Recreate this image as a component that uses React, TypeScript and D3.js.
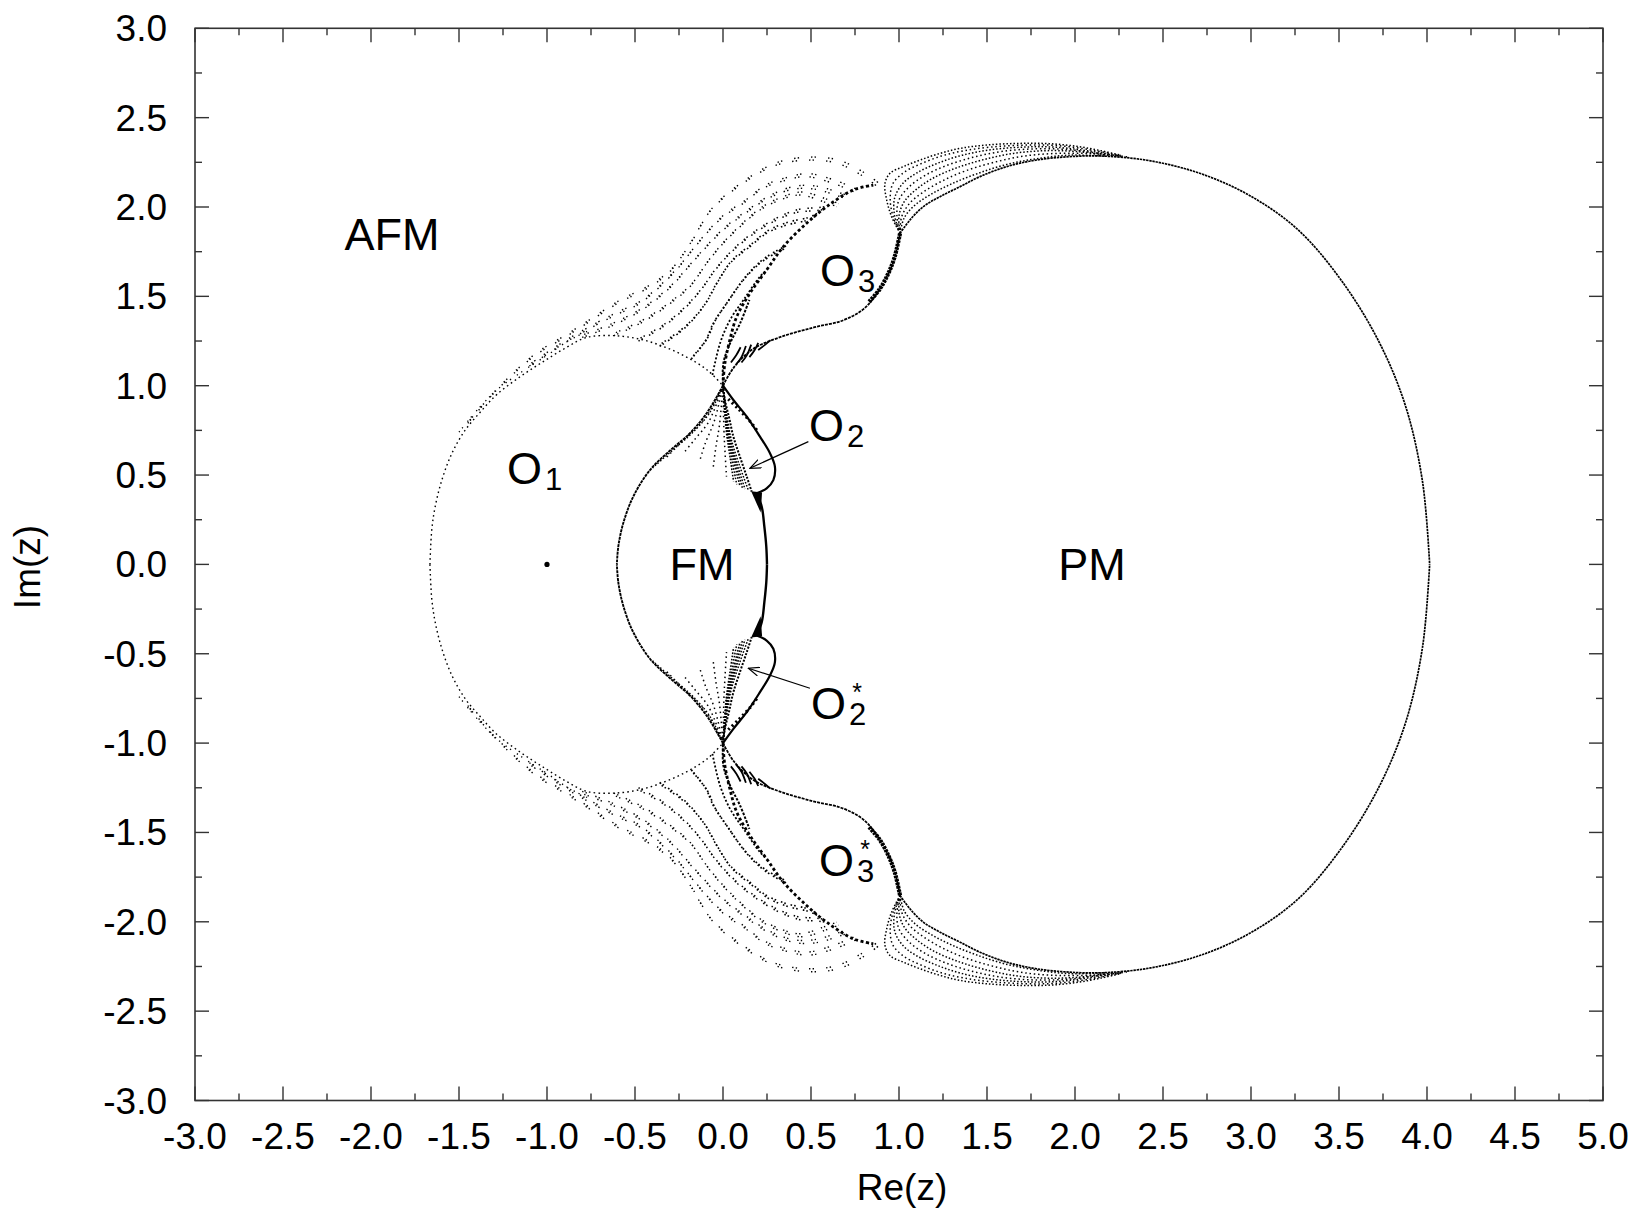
import React from 'react';
import * as d3 from 'd3';

type Pt = [number, number];

// ---- axis ticks ----
const xMajor = [-3, -2.5, -2, -1.5, -1, -0.5, 0, 0.5, 1, 1.5, 2, 2.5, 3, 3.5, 4, 4.5, 5];
const xLabels = ['-3.0', '-2.5', '-2.0', '-1.5', '-1.0', '-0.5', '0.0', '0.5', '1.0', '1.5', '2.0', '2.5', '3.0', '3.5', '4.0', '4.5', '5.0'];
const yMajor = [-3, -2.5, -2, -1.5, -1, -0.5, 0, 0.5, 1, 1.5, 2, 2.5, 3];
const yLabels = ['-3.0', '-2.5', '-2.0', '-1.5', '-1.0', '-0.5', '0.0', '0.5', '1.0', '1.5', '2.0', '2.5', '3.0'];

// ---- zero loci, upper half plane (the lower half is the complex conjugate) ----
const pmBoundary: Pt[] = [
  [1.006, 1.853], [1.062, 1.927], [1.138, 2.002], [1.233, 2.058], [1.347, 2.114], [1.46, 2.17],
  [1.612, 2.226], [1.782, 2.263], [1.972, 2.282], [2.161, 2.285], [2.43, 2.258], [2.72, 2.185],
  [3.0, 2.06], [3.27, 1.87], [3.52, 1.58], [3.73, 1.24], [3.88, 0.88], [3.975, 0.46], [4.015, 0.0],
];

const o1Boundary: Pt[] = [
  [-1.665, 0.0], [-1.655, 0.19], [-1.636, 0.32], [-1.598, 0.47], [-1.541, 0.62], [-1.466, 0.75],
  [-1.381, 0.85], [-1.286, 0.95], [-1.153, 1.05], [-1.021, 1.135], [-0.888, 1.215], [-0.775, 1.27],
  [-0.62, 1.28], [-0.47, 1.26], [-0.34, 1.22], [-0.21, 1.162], [-0.09, 1.088], [0.0, 1.0],
];

const o1Fringe: Pt[] = [
  [-1.50, 0.74], [-1.40, 0.86], [-1.28, 0.98], [-1.14, 1.08], [-1.0, 1.17], [-0.88, 1.25], [-0.76, 1.31],
];

const fmLeftBoundary: Pt[] = [
  [0.0, 1.0], [-0.093, 0.846], [-0.188, 0.734], [-0.301, 0.637], [-0.415, 0.528], [-0.510, 0.379],
  [-0.567, 0.230], [-0.595, 0.099], [-0.603, 0.0],
];

const fmRightBoundary: Pt[] = [
  [0.191, 0.398], [0.220, 0.323], [0.235, 0.211], [0.246, 0.099], [0.250, 0.0],
];

const fmWedge: Pt[] = [[0.16, 0.409], [0.222, 0.402], [0.214, 0.29]];

const o2Boundary: Pt[] = [
  [0.0, 1.0], [0.059, 0.920], [0.135, 0.827], [0.210, 0.715], [0.267, 0.622], [0.295, 0.547],
  [0.286, 0.472], [0.248, 0.426], [0.191, 0.398],
];

const o2Edge: Pt[] = [
  [0.0, 1.0], [0.011, 0.92], [0.035, 0.82], [0.059, 0.715], [0.097, 0.60], [0.135, 0.491], [0.163, 0.407],
];

const o2Hatch: Pt[] = [[0.03, 0.925], [0.09, 0.868], [0.15, 0.805], [0.20, 0.74]];

const fmFanRays: Pt[][] = [
  [[0, 1], [-0.075, 0.85], [-0.17, 0.74], [-0.28, 0.645], [-0.40, 0.54]],
  [[0, 1], [-0.10, 0.82], [-0.22, 0.70], [-0.32, 0.60]],
  [[0, 1], [-0.08, 0.80], [-0.16, 0.70], [-0.226, 0.62]],
  [[0, 1], [-0.05, 0.80], [-0.10, 0.68], [-0.131, 0.584]],
  [[0, 1], [-0.02, 0.78], [-0.04, 0.66], [-0.055, 0.547]],
  [[0, 1], [0.005, 0.76], [0.012, 0.62], [0.02, 0.491]],
  [[0, 1], [0.018, 0.75], [0.04, 0.60], [0.06, 0.465]],
  [[0, 1], [0.022, 0.745], [0.05, 0.59], [0.078, 0.448]],
  [[0, 1], [0.025, 0.74], [0.06, 0.58], [0.097, 0.435]],
  [[0, 1], [0.03, 0.735], [0.07, 0.57], [0.11, 0.428]],
  [[0, 1], [0.035, 0.73], [0.08, 0.56], [0.125, 0.422]],
  [[0, 1], [0.042, 0.72], [0.095, 0.55], [0.145, 0.413]],
];

const o3LowerBoundary: Pt[] = [
  [0.0, 1.0], [0.06, 1.10], [0.17, 1.205], [0.32, 1.27], [0.51, 1.325], [0.68, 1.365],
  [0.80, 1.43], [0.89, 1.54], [0.965, 1.685], [1.006, 1.853],
];

const o3CuspEdge: Pt[] = [[0.83, 1.47], [0.89, 1.54], [0.94, 1.63], [0.975, 1.72], [1.006, 1.853]];

const o3PinchHatch: Pt[][] = [
  [[0.045, 1.13], [0.075, 1.17], [0.10, 1.215]],
  [[0.075, 1.12], [0.105, 1.16], [0.13, 1.222]],
  [[0.105, 1.13], [0.135, 1.17], [0.16, 1.23]],
  [[0.15, 1.16], [0.18, 1.20], [0.20, 1.24]],
  [[0.20, 1.20], [0.24, 1.23], [0.27, 1.255]],
];

const o3InnerEdge: Pt[] = [
  [0.0, 1.0], [0.01, 1.12], [0.04, 1.26], [0.078, 1.386], [0.153, 1.517], [0.248, 1.648],
  [0.343, 1.778], [0.475, 1.909], [0.589, 2.002], [0.740, 2.095], [0.854, 2.123],
];

const fanARows: Pt[][] = [
  [[-1.45, 0.79], [-1.30, 0.96], [-1.08, 1.16], [-0.90, 1.27], [-0.78, 1.345], [-0.60, 1.46], [-0.42, 1.55],
    [-0.30, 1.64], [-0.19, 1.79], [-0.07, 1.98], [0.11, 2.13], [0.29, 2.23], [0.47, 2.262],
    [0.648, 2.245], [0.80, 2.17], [0.87, 2.12]],
  [[-1.10, 1.11], [-0.90, 1.24], [-0.72, 1.34], [-0.60, 1.40], [-0.472, 1.461], [-0.282, 1.629],
    [-0.188, 1.741], [-0.093, 1.853], [0.002, 1.946], [0.116, 2.021], [0.229, 2.105], [0.362, 2.151],
    [0.475, 2.170], [0.627, 2.132], [0.741, 2.086]],
  [[-0.80, 1.27], [-0.62, 1.34], [-0.45, 1.43], [-0.30, 1.55], [-0.20, 1.66], [-0.10, 1.77],
    [0.0, 1.87], [0.12, 1.96], [0.26, 2.05], [0.40, 2.10], [0.52, 2.10], [0.66, 2.06], [0.72, 2.04]],
  [[-0.62, 1.28], [-0.45, 1.36], [-0.30, 1.46], [-0.188, 1.554], [-0.093, 1.685], [0.002, 1.797],
    [0.097, 1.890], [0.210, 1.983], [0.324, 2.039], [0.438, 2.067], [0.570, 2.030], [0.646, 2.002]],
  [[-0.48, 1.25], [-0.34, 1.33], [-0.22, 1.43], [-0.13, 1.53], [-0.05, 1.64], [0.05, 1.75], [0.16, 1.84],
    [0.29, 1.92], [0.42, 1.97], [0.53, 1.98], [0.60, 1.99]],
  [[-0.36, 1.22], [-0.22, 1.32], [-0.112, 1.442], [-0.036, 1.573], [0.040, 1.685], [0.153, 1.778],
    [0.248, 1.853], [0.362, 1.899], [0.475, 1.925], [0.53, 1.95]],
  [[-0.18, 1.15], [-0.10, 1.25], [-0.055, 1.349], [0.021, 1.461], [0.116, 1.592], [0.210, 1.685],
    [0.305, 1.745], [0.36, 1.77]],
  [[-0.06, 1.06], [-0.017, 1.237], [0.040, 1.368], [0.116, 1.479], [0.210, 1.610], [0.25, 1.648]],
  [[0.0, 1.01], [0.002, 1.125], [0.040, 1.237], [0.097, 1.349], [0.15, 1.48]],
];

const fanBRows: Pt[][] = [
  [[1.006, 1.853], [0.958, 1.946], [0.93, 2.04], [0.92, 2.13], [0.95, 2.19], [1.025, 2.226], [1.12, 2.263],
    [1.233, 2.30], [1.347, 2.328], [1.50, 2.347], [1.69, 2.356], [1.88, 2.353], [2.07, 2.33], [2.26, 2.29]],
  [[1.006, 1.853], [0.966, 1.948], [0.95, 2.045], [0.965, 2.13], [1.03, 2.195], [1.12, 2.24], [1.24, 2.285],
    [1.37, 2.315], [1.52, 2.335], [1.70, 2.346], [1.88, 2.345], [2.07, 2.323], [2.26, 2.288]],
  [[1.006, 1.853], [0.975, 1.95], [0.975, 2.05], [1.02, 2.13], [1.10, 2.19], [1.22, 2.245], [1.36, 2.29],
    [1.52, 2.32], [1.70, 2.335], [1.88, 2.335], [2.07, 2.315], [2.26, 2.285]],
  [[1.006, 1.853], [0.988, 1.95], [1.0, 2.04], [1.06, 2.115], [1.15, 2.178], [1.27, 2.232], [1.42, 2.278],
    [1.58, 2.31], [1.76, 2.325], [1.95, 2.322], [2.14, 2.30], [2.30, 2.28]],
  [[1.006, 1.853], [1.0, 1.95], [1.03, 2.03], [1.10, 2.10], [1.20, 2.165], [1.33, 2.22], [1.48, 2.265],
    [1.65, 2.30], [1.83, 2.315], [2.02, 2.31], [2.22, 2.285]],
  [[1.006, 1.853], [1.015, 1.945], [1.06, 2.02], [1.14, 2.085], [1.25, 2.148], [1.38, 2.203], [1.54, 2.25],
    [1.71, 2.285], [1.90, 2.30], [2.10, 2.298], [2.28, 2.282]],
  [[1.006, 1.853], [1.03, 1.94], [1.09, 2.01], [1.18, 2.07], [1.30, 2.13], [1.44, 2.185], [1.60, 2.235],
    [1.78, 2.27], [1.97, 2.29], [2.17, 2.285]],
];

const isolatedZero: Pt = [-1.0, 0.0];

const o2Arrow: Pt[] = [[0.485, 0.687], [0.153, 0.538]];
const o2StarArrow: Pt[] = [[0.494, -0.693], [0.144, -0.581]];

// ---- geometry ----
const W = 1641;
const H = 1214;
const x = d3.scaleLinear().domain([-3, 5]).range([195, 1603]);
const y = d3.scaleLinear().domain([-3, 3]).range([1100.5, 28.3]);

const curve = d3.curveCatmullRom.alpha(0.5);
const lineUp = d3.line<Pt>().x(d => x(d[0])).y(d => y(d[1])).curve(curve);
const lineDown = d3.line<Pt>().x(d => x(d[0])).y(d => y(-d[1])).curve(curve);

const FONT = '"Liberation Sans", Arial, Helvetica, sans-serif';

type CurveProps = {
  pts: Pt[];
  w: number;
  dash?: string;
  cap?: 'butt' | 'round' | 'square';
  twin?: [number, number];
};

// Draws a locus in the upper half plane and its mirror image below the real axis.
function Locus({ pts, w, dash, cap = 'butt', twin }: CurveProps) {
  const common = {
    fill: 'none',
    stroke: '#000',
    strokeWidth: w,
    strokeDasharray: dash,
    strokeLinecap: cap,
  } as const;
  const up = lineUp(pts) ?? '';
  const dn = lineDown(pts) ?? '';
  return (
    <>
      <path d={up} {...common} />
      <path d={dn} {...common} />
      {twin && (
        <>
          <path d={up} {...common} transform={`translate(${twin[0]},${twin[1]})`} />
          <path d={dn} {...common} transform={`translate(${twin[0]},${-twin[1]})`} />
        </>
      )}
    </>
  );
}

function Wedge({ pts }: { pts: Pt[] }) {
  const up = pts.map(p => `${x(p[0])},${y(p[1])}`).join(' ');
  const dn = pts.map(p => `${x(p[0])},${y(-p[1])}`).join(' ');
  return (
    <>
      <polygon points={up} fill="#000" />
      <polygon points={dn} fill="#000" />
    </>
  );
}

function RegionLabel({ px, py, sub, star }: { px: number; py: number; sub: string; star?: boolean }) {
  return (
    <text x={px} y={py} fontSize={45} fontFamily={FONT} fill="#000">
      O
      <tspan dx={3} dy={6} fontSize={31}>
        {sub}
      </tspan>
      {star && (
        <tspan dx={-14} dy={-24} fontSize={25}>
          *
        </tspan>
      )}
    </text>
  );
}

export default function App() {
  const minorX = d3.range(0, 33).map(i => -3 + i * 0.25);
  const minorY = d3.range(0, 25).map(i => -3 + i * 0.25);
  const isMajor = (v: number) => Math.abs(v * 2 - Math.round(v * 2)) < 1e-9;

  const left = x(-3), right = x(5), top = y(3), bottom = y(-3);
  const axisColor = '#333';

  const fanRowStyles = [
    { w: 1.4, dash: '1.4 2.2 1.4 12' },
    { w: 1.4, dash: '1.4 2.2 1.4 10' },
    { w: 1.4, dash: '1.4 2.2 1.4 9' },
    { w: 1.4, dash: '1.4 2.2 1.4 8' },
    { w: 1.5, dash: '1.5 2 1.5 7' },
    { w: 1.6, dash: '1.6 2 1.6 5' },
    { w: 1.7, dash: '1.7 2 1.7 4' },
    { w: 1.8, dash: '2 2' },
    { w: 2, dash: '2.5 1.5' },
  ];

  return (
    <svg
      width={W}
      height={H}
      viewBox={`0 0 ${W} ${H}`}
      style={{ position: 'absolute', left: 0, top: 0, background: '#fff' }}
    >
      <rect x={0} y={0} width={W} height={H} fill="#fff" />

      {/* frame */}
      <rect x={left} y={top} width={right - left} height={bottom - top} fill="none" stroke={axisColor} strokeWidth={1.6} />

      {/* ticks on all four sides, pointing inward */}
      {minorX.map(v => {
        const len = isMajor(v) ? 14 : 7;
        return (
          <g key={`tx${v}`} stroke={axisColor} strokeWidth={1.4}>
            <line x1={x(v)} x2={x(v)} y1={bottom} y2={bottom - len} />
            <line x1={x(v)} x2={x(v)} y1={top} y2={top + len} />
          </g>
        );
      })}
      {minorY.map(v => {
        const len = isMajor(v) ? 14 : 7;
        return (
          <g key={`ty${v}`} stroke={axisColor} strokeWidth={1.4}>
            <line x1={left} x2={left + len} y1={y(v)} y2={y(v)} />
            <line x1={right} x2={right - len} y1={y(v)} y2={y(v)} />
          </g>
        );
      })}

      {/* tick labels */}
      <g fontFamily={FONT} fontSize={37} fill="#000">
        {xMajor.map((v, i) => (
          <text key={`xl${v}`} x={x(v)} y={bottom + 48} textAnchor="middle">
            {xLabels[i]}
          </text>
        ))}
        {yMajor.map((v, i) => (
          <text key={`yl${v}`} x={left - 28} y={y(v) + 13} textAnchor="end">
            {yLabels[i]}
          </text>
        ))}
      </g>

      {/* axis titles */}
      <text x={902} y={1200} fontFamily={FONT} fontSize={37} textAnchor="middle">
        Re(z)
      </text>
      <text transform="translate(40, 567) rotate(-90)" fontFamily={FONT} fontSize={37} textAnchor="middle">
        Im(z)
      </text>

      {/* zero loci */}
      <g>
        <Locus pts={pmBoundary} w={1.7} dash="2.4 0.8" />
        <Locus pts={o1Boundary} w={1.4} dash="1.6 3.2" />
        <Locus pts={o1Fringe} w={1.3} dash="1.3 4 1.3 7" />
        <Locus pts={fmLeftBoundary} w={1.9} dash="3 0.8" />
        <Locus pts={fmRightBoundary} w={2.4} />
        <Wedge pts={fmWedge} />
        <Locus pts={o2Boundary} w={2.2} />
        <Locus pts={o2Edge} w={2} dash="2 1.5" />
        <Locus pts={o2Hatch} w={3.2} dash="2 3" />
        {fmFanRays.map((r, i) => (
          <Locus key={`fd${i}`} pts={r} w={1.5} dash={i === 0 ? '1.5 2' : i > 5 ? '1.6 1.6' : '1.5 3.5'} />
        ))}
        <Locus pts={o3LowerBoundary} w={1.8} dash="3 1" />
        <Locus pts={o3CuspEdge} w={4.2} dash="2.5 1" />
        {o3PinchHatch.map((r, i) => (
          <Locus key={`oh${i}`} pts={r} w={1.8} />
        ))}
        <Locus pts={o3InnerEdge} w={2.8} dash="3 2.5" />
        {fanARows.map((r, i) => (
          <Locus
            key={`fa${i}`}
            pts={r}
            w={fanRowStyles[i].w}
            dash={fanRowStyles[i].dash}
            twin={i < 7 ? [2, -3] : undefined}
          />
        ))}
        {fanBRows.map((r, i) => (
          <Locus key={`fb${i}`} pts={r} w={1.5} dash={i % 2 === 0 ? '1.5 2' : '1.5 2.8'} />
        ))}
        <circle cx={x(isolatedZero[0])} cy={y(isolatedZero[1])} r={2.6} fill="#000" />
      </g>

      {/* arrows to the O2 and O2* regions */}
      <defs>
        <marker id="openArrow" viewBox="0 0 12 10" refX={11} refY={5} markerWidth={12} markerHeight={10} markerUnits="userSpaceOnUse" orient="auto">
          <path d="M0,0.5 L11,5 L0,9.5" fill="none" stroke="#000" strokeWidth={1.2} />
        </marker>
      </defs>
      {[o2Arrow, o2StarArrow].map((a, i) => (
        <line
          key={`ar${i}`}
          x1={x(a[0][0])}
          y1={y(a[0][1])}
          x2={x(a[1][0])}
          y2={y(a[1][1])}
          stroke="#000"
          strokeWidth={1.2}
          markerEnd="url(#openArrow)"
        />
      ))}

      {/* region labels */}
      <text x={392} y={250} fontFamily={FONT} fontSize={45} textAnchor="middle">
        AFM
      </text>
      <text x={702} y={580} fontFamily={FONT} fontSize={45} textAnchor="middle">
        FM
      </text>
      <text x={1092} y={580} fontFamily={FONT} fontSize={45} textAnchor="middle">
        PM
      </text>
      <RegionLabel px={507} py={484} sub="1" />
      <RegionLabel px={809} py={441} sub="2" />
      <RegionLabel px={820} py={286} sub="3" />
      <RegionLabel px={811} py={719} sub="2" star />
      <RegionLabel px={819} py={876} sub="3" star />
    </svg>
  );
}
